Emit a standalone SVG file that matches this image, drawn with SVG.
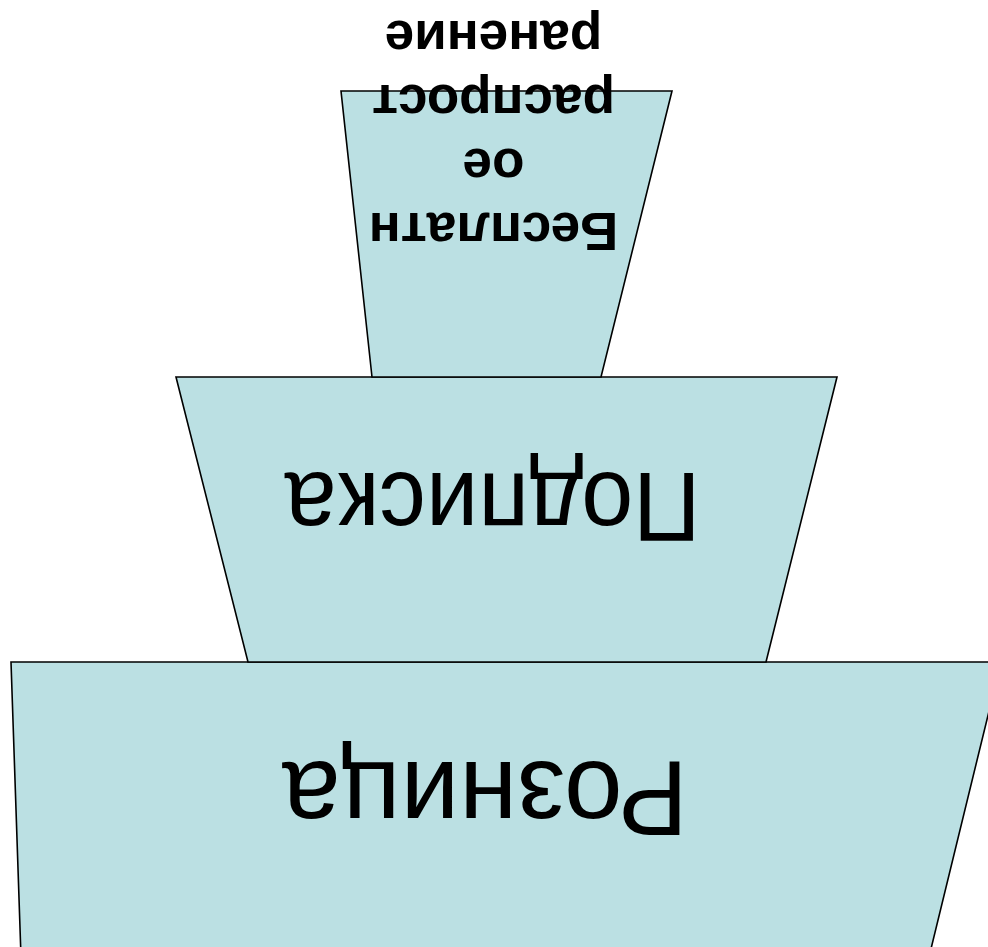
<svg xmlns="http://www.w3.org/2000/svg" width="988" height="947" viewBox="0 0 988 947">
<style>
.tier{fill:#BBE0E3;stroke:#000;stroke-width:1.6;stroke-linejoin:miter}
.lbl{font-family:"Liberation Sans",Arial,sans-serif;fill:#000;text-anchor:middle}
.big{font-size:100px}
.small{font-size:53px;font-weight:bold}
</style>
<rect width="988" height="947" fill="#fff"/>
<g id="node-retail">
<polygon class="tier" points="11,662 1001,662 929,957 21,957"/>
<text class="lbl big" style="font-size:105px" transform="translate(485,762) rotate(180)">Розница</text>
</g>
<g id="node-subscription">
<polygon class="tier" points="176,377 837,377 766,662 248,662"/>
<text class="lbl big" style="font-size:99px" textLength="416" lengthAdjust="spacingAndGlyphs" transform="translate(492.5,473) rotate(180)">Подписка</text>
</g>
<g id="node-free">
<polygon class="tier" points="341,91 672,91 601,377 372,377"/>
<g transform="translate(493.5,0) rotate(180)">
<text class="lbl small" x="0" y="-213">Бесплатн</text>
<text class="lbl small" x="0" y="-149">ое</text>
<text class="lbl small" x="0" y="-85">распрост</text>
<text class="lbl small" x="0" y="-21">ранение</text>
</g>
</g>
</svg>
